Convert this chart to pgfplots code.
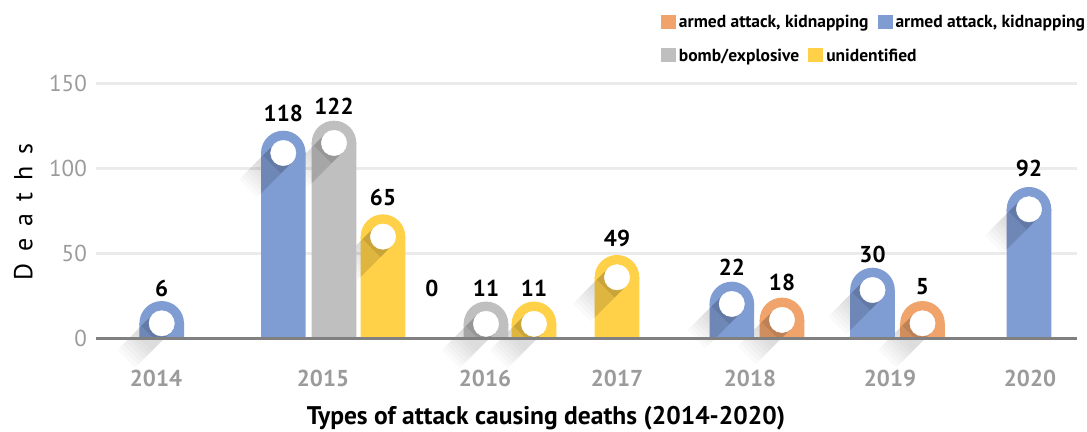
\documentclass[border=0pt]{standalone}
\usepackage{fontspec}
\setmainfont{PT Sans}
\usepackage{pgfplots}
\pgfplotsset{compat=1.18}
\usepackage{pgfplotstable}

\definecolor{orangeC}{HTML}{F0A46C}
\definecolor{blueC}{HTML}{7F9CD3}
\definecolor{grayC}{HTML}{BFBFBF}
\definecolor{yellowC}{HTML}{FFD148}
\definecolor{gridC}{HTML}{EBEBEB}
\definecolor{axisC}{HTML}{808080}
\definecolor{tickC}{HTML}{9B9B9B}

% x = bar centre, c = centre of the rounded cap, v = label, ly = label baseline
\pgfplotstableread{
x c v ly
782 10.8 18 28.4
922.5 8.8 5 25.5
}\orangeT
\pgfplotstableread{
x c v ly
161.7 8.8 6 24.5
283.3 109 118 127.4
432 nan 0 24.5
731.8 20.2 22 36.7
872.5 28.4 30 44.5
1029 75.9 92 95
}\blueT
\pgfplotstableread{
x c v ly
334 114.9 122 131.4
486 8.5 11 24.5
}\grayT
\pgfplotstableread{
x c v ly
383 59.8 65 78.4
534 8.5 11 24.5
617 35.9 49 53.9
}\yellowT

% band of the long shadow, from the white circle down to the left
\newcommand\shband[4]{%
  \pgfpathmoveto{\pgfqpoint{8.98bp}{-8.98bp}}%
  \pgfpathlineto{\pgfqpoint{-8.98bp}{8.98bp}}%
  \pgfpathlineto{\pgfqpoint{#1bp}{#2bp}}%
  \pgfpathlineto{\pgfqpoint{#3bp}{#4bp}}%
  \pgfpathclose\pgfusepathqfill}

\pgfdeclareplotmark{capmark}{%
  \pgfpathmoveto{\pgfqpoint{-22.3bp}{-1.5bp}}%
  \pgfpathlineto{\pgfqpoint{-22.3bp}{0pt}}%
  \pgfpatharc{180}{0}{22.3bp}%
  \pgfpathlineto{\pgfqpoint{22.3bp}{-1.5bp}}%
  \pgfpathclose\pgfusepathqfill}
\pgfdeclareplotmark{innershadow}{%
  \pgfsetfillcolor{black}%
  \pgfsetfillopacity{0.13}%
  \shband{-22.3}{-4.34}{-22.3}{-40.26}%
  \pgfsetfillopacity{0.09}%
  \shband{-20.29}{-2.33}{-2.33}{-20.29}}
\pgfdeclareplotmark{outershadow}{%
  \pgfsetfillcolor{black}%
  \pgfsetfillopacity{0.018}%
  \shband{-27.36}{-9.40}{-9.40}{-27.36}%
  \shband{-30.19}{-12.23}{-12.23}{-30.19}%
  \shband{-33.02}{-15.06}{-15.06}{-33.02}%
  \shband{-35.85}{-17.89}{-17.89}{-35.85}%
  \shband{-38.68}{-20.72}{-20.72}{-38.68}%
  \shband{-41.51}{-23.55}{-23.55}{-41.51}%
  \shband{-44.34}{-26.38}{-26.38}{-44.34}}

\pgfplotsset{
  common/.style={
    at={(96bp,93.7bp)}, anchor=south west,
    x=1bp, y=1.7bp, xmin=96, xmax=1077, ymin=0, ymax=150,
    major tick length=0pt,
    /pgf/number format/assume math mode=true,
    legend columns=-1,
    legend image code/.code={\fill[##1] (0bp,-6bp) rectangle (15bp,8bp);},
  },
  legstyle/.style={draw=none, fill=none, inner sep=0pt, outer sep=0pt,
      font=\bfseries\fontsize{17.5bp}{17.5bp}\selectfont,
      nodes={inner sep=0pt},
      /tikz/every odd column/.append style={column sep=3bp},
      /tikz/every even column/.append style={column sep=9bp}},
}

\begin{document}
\begin{tikzpicture}
\useasboundingbox (0,0) rectangle (1087bp,432bp);
% background: grid, y ticks, long shadows
\begin{axis}[common,
  clip=false,
  axis line style={draw=none},
  xtick=\empty,
  ytick={0,50,100,150},
  ymajorgrids, grid style={gridC, line width=2.5bp},
  yticklabel style={font=\fontsize{23bp}{23bp}\selectfont, text=tickC, anchor=east, inner sep=0pt, xshift=-9bp},
  ylabel={D\hspace{12bp}e\hspace{12bp}a\hspace{12bp}t\hspace{12bp}h\hspace{12bp}s},
  ylabel style={at={(axis description cs:-0.0741,0.4965)}, anchor=center, font=\fontsize{26bp}{26bp}\selectfont},
  legend style={legstyle, at={(axis description cs:0.5759,1.2404)}, anchor=west},
]
\addlegendimage{fill=orangeC, draw=none}
\addlegendentry{armed attack, kidnapping}
\addlegendimage{fill=blueC, draw=none}
\addlegendentry{armed attack, kidnapping}
\addplot[only marks, mark=outershadow, forget plot] table[x=x, y=c] {\orangeT};
\addplot[only marks, mark=outershadow, forget plot] table[x=x, y=c] {\blueT};
\addplot[only marks, mark=outershadow, forget plot] table[x=x, y=c] {\grayT};
\addplot[only marks, mark=outershadow, forget plot] table[x=x, y=c] {\yellowT};
\end{axis}
% foreground: bars, caps, circles, labels
\begin{axis}[common,
  clip marker paths=true,
  axis on top,
  axis x line*=bottom, axis y line=none,
  x axis line style={draw=axisC, line width=3bp},
  xtick={156,323,485,617,750,890,1030},
  xticklabels={2014,2015,2016,2017,2018,2019,2020},
  xticklabel style={font=\bfseries\fontsize{23bp}{23bp}\selectfont, text=tickC, anchor=base, inner sep=0pt, yshift=-48.4bp},
  xlabel={Types of attack causing deaths (2014-2020)},
  xlabel style={at={(axis description cs:0.4587,-0.34)}, anchor=base, inner sep=0pt, font=\bfseries\fontsize{25.5bp}{25.5bp}\selectfont},
  legend style={legstyle, at={(axis description cs:0.5759,1.109)}, anchor=west},
  nodes near coords style={anchor=base, inner sep=0pt, text=black, font=\bfseries\fontsize{23bp}{23bp}\selectfont},
]
\addlegendimage{fill=grayC, draw=none}
\addlegendentry{bomb/explosive}
\addlegendimage{fill=yellowC, draw=none}
\addlegendentry{unidentified}
% bar bodies
\addplot[ybar, bar width=44.6bp, bar shift=0pt, fill=orangeC, draw=none, forget plot] table[x=x, y=c] {\orangeT};
\addplot[ybar, bar width=44.6bp, bar shift=0pt, fill=blueC, draw=none, forget plot] table[x=x, y=c] {\blueT};
\addplot[ybar, bar width=44.6bp, bar shift=0pt, fill=grayC, draw=none, forget plot] table[x=x, y=c] {\grayT};
\addplot[ybar, bar width=44.6bp, bar shift=0pt, fill=yellowC, draw=none, forget plot] table[x=x, y=c] {\yellowT};
% rounded caps
\addplot[only marks, mark=capmark, color=orangeC, mark options={fill=orangeC}, forget plot] table[x=x, y=c] {\orangeT};
\addplot[only marks, mark=capmark, color=blueC, mark options={fill=blueC}, forget plot] table[x=x, y=c] {\blueT};
\addplot[only marks, mark=capmark, color=grayC, mark options={fill=grayC}, forget plot] table[x=x, y=c] {\grayT};
\addplot[only marks, mark=capmark, color=yellowC, mark options={fill=yellowC}, forget plot] table[x=x, y=c] {\yellowT};
% inner shadows
\addplot[only marks, mark=innershadow, forget plot] table[x=x, y=c] {\orangeT};
\addplot[only marks, mark=innershadow, forget plot] table[x=x, y=c] {\blueT};
\addplot[only marks, mark=innershadow, forget plot] table[x=x, y=c] {\grayT};
\addplot[only marks, mark=innershadow, forget plot] table[x=x, y=c] {\yellowT};
% white circles
\addplot[only marks, mark=*, mark size=12.7bp, color=white, mark options={fill=white, draw=white}, forget plot] table[x=x, y=c] {\orangeT};
\addplot[only marks, mark=*, mark size=12.7bp, color=white, mark options={fill=white, draw=white}, forget plot] table[x=x, y=c] {\blueT};
\addplot[only marks, mark=*, mark size=12.7bp, color=white, mark options={fill=white, draw=white}, forget plot] table[x=x, y=c] {\grayT};
\addplot[only marks, mark=*, mark size=12.7bp, color=white, mark options={fill=white, draw=white}, forget plot] table[x=x, y=c] {\yellowT};
% value labels
\addplot[draw=none, mark=none, nodes near coords, point meta=explicit symbolic, forget plot] table[x=x, y=ly, meta=v] {\orangeT};
\addplot[draw=none, mark=none, nodes near coords, point meta=explicit symbolic, forget plot] table[x=x, y=ly, meta=v] {\blueT};
\addplot[draw=none, mark=none, nodes near coords, point meta=explicit symbolic, forget plot] table[x=x, y=ly, meta=v] {\grayT};
\addplot[draw=none, mark=none, nodes near coords, point meta=explicit symbolic, forget plot] table[x=x, y=ly, meta=v] {\yellowT};
\end{axis}
\end{tikzpicture}
\end{document}
